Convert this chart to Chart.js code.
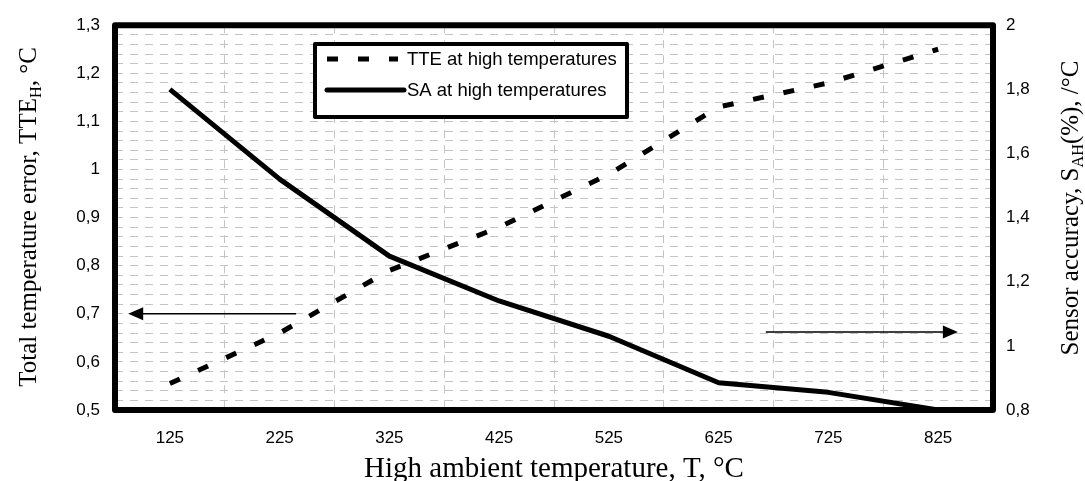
<!DOCTYPE html>
<html>
<head>
<meta charset="utf-8">
<script src="https://cdn.jsdelivr.net/npm/chart.js@4.4.0/dist/chart.umd.min.js"></script>
<style>
  html, body { margin: 0; padding: 0; background: #fff; }
  #wrap { width: 1085px; height: 481px; }
</style>
</head>
<body>
<div id="wrap"><canvas id="chart" width="1085" height="481"></canvas></div>
<script>
// Data
const temperatures = ['125', '225', '325', '425', '525', '625', '725', '825'];
const tteValues = [0.555, 0.66, 0.79, 0.88, 0.99, 1.13, 1.18, 1.25];
const saValues = [1.80, 1.52, 1.28, 1.14, 1.03, 0.885, 0.855, 0.80];

const seriesLabels = ['TTE at high temperatures', 'SA at high temperatures'];
const xTitle = 'High ambient temperature, T, °C';
const leftTitle = [['Total temperature error, TTE'], ['H', true], [', °C']];
const rightTitle = [['Sensor accuracy, S'], ['AH', true], ['(%), /°C']];

const gridColor = '#c4c4c4';
const tickFont = { family: 'Liberation Sans', size: 17 };

function commaNumber(v) {
    return String(Math.round(v * 10) / 10).replace('.', ',');
}

// draws text with subscript parts, rotated or not, centred on (x, y)
function drawRich(ctx, parts, x, y, angle, size) {
    ctx.save();
    ctx.translate(x, y);
    ctx.rotate(angle);
    ctx.fillStyle = '#000';
    ctx.textBaseline = 'alphabetic';
    ctx.textAlign = 'left';
    let total = 0;
    const widths = parts.map(p => {
        ctx.font = (p[1] ? size * 0.65 : size) + 'px "Liberation Serif"';
        const w = ctx.measureText(p[0]).width;
        total += w;
        return w;
    });
    let cx = -total / 2;
    parts.forEach((p, i) => {
        ctx.font = (p[1] ? size * 0.65 : size) + 'px "Liberation Serif"';
        ctx.fillText(p[0], cx, p[1] ? size * 0.18 : 0);
        cx += widths[i];
    });
    ctx.restore();
}

function drawArrow(ctx, x0, x1, y) {
    const dir = Math.sign(x1 - x0);
    ctx.lineWidth = 1.5;
    ctx.setLineDash([]);
    ctx.beginPath();
    ctx.moveTo(x0, y);
    ctx.lineTo(x1 - dir * 12, y);
    ctx.stroke();
    ctx.beginPath();
    ctx.moveTo(x1, y);
    ctx.lineTo(x1 - dir * 15, y - 6.5);
    ctx.lineTo(x1 - dir * 15, y + 6.5);
    ctx.closePath();
    ctx.fill();
}

const overlay = {
    id: 'overlay',
    afterDatasetsDraw(chart) {
        const { ctx, chartArea: a, scales } = chart;
        ctx.save();
        ctx.strokeStyle = '#000';
        ctx.fillStyle = '#000';

        // arrows pointing to each series' axis
        drawArrow(ctx, scales.x.getPixelForValue(1.15), scales.x.getPixelForValue(-0.38), scales.y.getPixelForValue(0.7));
        drawArrow(ctx, scales.x.getPixelForValue(5.43), scales.x.getPixelForValue(7.18), scales.y.getPixelForValue(0.662));

        // heavy frame round the plot
        ctx.lineWidth = 6;
        ctx.lineJoin = 'round';
        ctx.strokeRect(a.left, a.top, a.width, a.height);

        // legend box
        const lx = 315, ly = 44, lw = 312, lh = 73;
        ctx.fillStyle = '#fff';
        ctx.fillRect(lx, ly, lw, lh);
        ctx.lineWidth = 4;
        ctx.strokeRect(lx, ly, lw, lh);
        chart.data.datasets.forEach((ds, i) => {
            const rowY = 59 + i * 31;
            ctx.lineWidth = 5;
            ctx.lineCap = ds.borderDash ? 'butt' : 'round';
            ctx.setLineDash(ds.borderDash || []);
            ctx.beginPath();
            ctx.moveTo(327, rowY);
            ctx.lineTo(ds.borderDash ? 398 : 404, rowY);
            ctx.stroke();
            ctx.setLineDash([]);
            ctx.fillStyle = '#000';
            ctx.font = '18.5px "Liberation Sans"';
            ctx.textBaseline = 'middle';
            ctx.fillText(ds.label, 407, rowY + 1);
        });
        ctx.restore();
    },
    afterDraw(chart) {
        const { ctx } = chart;
        drawRich(ctx, [[xTitle]], 554, 477, 0, 29);
        drawRich(ctx, leftTitle, 36, 217, -Math.PI / 2, 25);
        drawRich(ctx, rightTitle, 1078, 208, -Math.PI / 2, 25);
    }
};

new Chart(document.getElementById('chart'), {
    type: 'line',
    data: {
        labels: temperatures,
        datasets: [{
            label: seriesLabels[0],
            data: tteValues,
            yAxisID: 'y',
            borderColor: '#000',
            borderWidth: 5,
            borderDash: [11, 20],
            borderCapStyle: 'butt',
            pointRadius: 0,
            tension: 0,
            fill: false
        }, {
            label: seriesLabels[1],
            data: saValues,
            yAxisID: 'y1',
            borderColor: '#000',
            borderWidth: 5,
            borderJoinStyle: 'round',
            pointRadius: 0,
            tension: 0,
            fill: false
        }]
    },
    options: {
        responsive: false,
        animation: false,
        devicePixelRatio: 1,
        layout: { padding: { top: 25, left: 0, right: 0, bottom: 0 } },
        plugins: {
            legend: { display: false },
            tooltip: { enabled: false }
        },
        scales: {
            x: {
                type: 'category',
                offset: true,
                grid: { offset: true, color: gridColor, lineWidth: 1, drawTicks: false },
                border: { display: false, dash: [8, 7] },
                ticks: { color: '#000', font: tickFont, padding: 18, maxRotation: 0 },
                afterFit: s => { s.height = 71; }
            },
            y: {
                position: 'left',
                min: 0.5,
                max: 1.3,
                grid: { color: gridColor, lineWidth: 1, drawTicks: false },
                border: { display: false, dash: [8, 7] },
                ticks: {
                    stepSize: 0.02,
                    autoSkip: false,
                    maxTicksLimit: 100,
                    color: '#000',
                    font: tickFont,
                    padding: 15,
                    callback: v => (Math.round(v * 100) % 10 === 0 ? commaNumber(v) : '')
                },
                afterFit: s => { s.width = 115; }
            },
            y1: {
                position: 'right',
                min: 0.8,
                max: 2,
                grid: { drawOnChartArea: false, drawTicks: false },
                border: { display: false },
                ticks: {
                    stepSize: 0.2,
                    color: '#000',
                    font: tickFont,
                    padding: 13,
                    callback: v => commaNumber(v)
                },
                afterFit: s => { s.width = 92; }
            }
        }
    },
    plugins: [overlay]
});
</script>
</body>
</html>
